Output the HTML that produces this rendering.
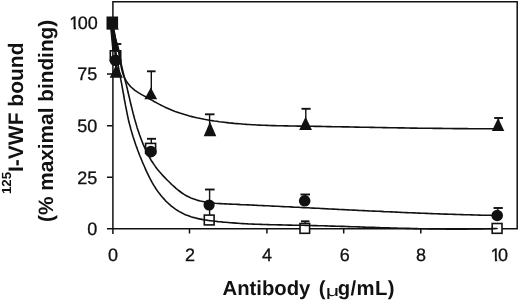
<!DOCTYPE html>
<html><head><meta charset="utf-8"><title>Figure</title>
<style>
html,body{margin:0;padding:0;background:#fff;}
body{width:520px;height:304px;overflow:hidden;position:relative;font-family:"Liberation Sans",Arial,sans-serif;}
svg{position:absolute;left:0;top:0;display:block;}
text{text-rendering:geometricPrecision;font-family:"Liberation Sans",Arial,sans-serif;fill:#111;}
.tk{font-size:18px;stroke:#111;stroke-width:0.3px;}
.b{font-weight:bold;}
</style></head><body>
<svg width="520" height="304" viewBox="0 0 520 304">
<rect width="520" height="304" fill="#fff"/>
<!-- frame -->
<g fill="none" stroke="#111" stroke-width="1.5">
<path d="M112.9,234 V1.7 H517.2 V228.8 H107"/>
<path d="M107,22.5 H112.5 M107,74.1 H112.5 M107,125.7 H112.5 M107,177.3 H112.5"/>
<path d="M189.5,228.8 V233.5 M266.9,228.8 V233.5 M343.7,228.8 V233.5 M420.8,228.8 V233.5"/>
</g>
<g fill="#111" stroke="#111" stroke-width="1.2" stroke-linejoin="round">
<polygon points="110.8,29 114,29 117.6,50.5 112.8,50.5"/>
<path d="M112.5,22.5 L116.3,72 M112.5,22.5 L116.3,60" fill="none"/>
</g>
<!-- error bars -->
<g fill="none" stroke="#111" stroke-width="1.4">
<path d="M117.5,52.0 V44.0"/><path stroke-width="1.9" d="M113.8,44.0 H121.3"/>
<path d="M151.3,90.0 V71.3"/><path stroke-width="1.9" d="M147.0,71.3 H155.6"/>
<path d="M209.6,125.0 V114.3"/><path stroke-width="1.9" d="M205.0,114.3 H214.5"/>
<path d="M305.8,120.0 V108.8"/><path stroke-width="1.9" d="M301.5,108.8 H310.6"/>
<path d="M498.5,121.0 V118.0"/><path stroke-width="1.9" d="M494.2,118.0 H503.0"/>
<path d="M151.3,146.0 V138.8"/><path stroke-width="1.9" d="M147.0,138.8 H156.0"/>
<path d="M209.6,215.0 V189.5"/><path stroke-width="1.9" d="M205.0,189.5 H214.6"/>
<path d="M305.2,198.0 V194.5"/><path stroke-width="1.9" d="M300.5,194.5 H310.0"/>
<path d="M497.8,212.0 V208.0"/><path stroke-width="1.9" d="M493.5,208.0 H502.8"/>
<path d="M305.2,224.0 V221.3"/><path stroke-width="1.9" d="M301.0,221.3 H309.5"/>
</g>
<!-- open squares -->
<g fill="#fff" stroke="#111" stroke-width="1.6">
<rect x="110.3" y="50.8" width="10.4" height="10" fill="none"/>
<rect x="145.6" y="143.4" width="10" height="10"/>
<rect x="204.3" y="215.1" width="9.8" height="9.8"/>
<rect x="300" y="223.5" width="9.6" height="9.8"/>
<rect x="492.2" y="223.5" width="9.8" height="9.8"/>
</g>
<!-- curves -->
<g fill="none" stroke="#111" stroke-width="1.6" stroke-linejoin="round" stroke-linecap="round">
<path d="M112.5,22.5 L112.4,25.0 L112.5,27.6 L112.9,30.1 L113.4,32.5 L114.0,35.0 L114.8,37.4 L115.6,39.8 L116.4,42.2 L117.2,44.6 L117.9,47.0 L118.6,49.4 L119.1,51.9 L119.5,54.4 L119.9,56.9 L120.2,59.4 L120.5,61.9 L120.8,64.4 L121.2,66.9 L121.7,69.4 L122.3,71.8 L123.1,74.2 L124.0,76.6 L125.1,78.9 L126.4,81.1 L127.8,83.2 L129.3,85.1 L131.0,87.0 L132.9,88.7 L134.9,90.3 L136.9,91.7 L139.1,93.1 L141.3,94.4 L143.5,95.6 L145.7,96.8 L147.9,98.0 L150.1,99.2 L152.3,100.4 L154.5,101.7 L156.7,102.9 L159.0,104.1 L161.2,105.3 L163.5,106.4 L165.7,107.5 L168.0,108.5 L170.4,109.5 L172.7,110.5 L175.1,111.4 L177.4,112.2 L179.8,113.1 L182.2,113.8 L184.7,114.6 L187.1,115.3 L189.5,116.0 L192.0,116.6 L194.4,117.2 L196.9,117.8 L199.3,118.3 L201.8,118.8 L204.3,119.3 L206.8,119.7 L209.3,120.2 L211.8,120.6 L214.3,121.0 L216.8,121.3 L219.3,121.7 L221.8,122.0 L224.3,122.3 L226.8,122.6 L229.3,122.9 L231.8,123.1 L234.3,123.4 L236.9,123.6 L239.4,123.8 L241.9,124.0 L244.4,124.2 L246.9,124.4 L249.4,124.5 L252.0,124.7 L254.5,124.8 L257.0,125.0 L259.5,125.1 L262.1,125.2 L264.6,125.3 L267.1,125.4 L269.6,125.5 L272.2,125.6 L274.7,125.6 L277.2,125.7 L279.7,125.8 L282.3,125.8 L284.8,125.9 L287.3,125.9 L289.8,126.0 L292.4,126.0 L294.9,126.0 L297.4,126.1 L300.0,126.1 L302.5,126.2 L305.0,126.2 L307.5,126.2 L310.1,126.3 L312.6,126.3 L315.1,126.4 L317.6,126.4 L320.2,126.4 L322.7,126.5 L325.2,126.5 L327.7,126.6 L330.3,126.6 L332.8,126.7 L335.3,126.7 L337.8,126.8 L340.4,126.8 L342.9,126.9 L345.4,126.9 L347.9,126.9 L350.5,127.0 L353.0,127.0 L355.5,127.1 L358.1,127.1 L360.6,127.2 L363.1,127.2 L365.6,127.3 L368.2,127.3 L370.7,127.4 L373.2,127.4 L375.7,127.5 L378.3,127.5 L380.8,127.5 L383.3,127.6 L385.8,127.6 L388.4,127.7 L390.9,127.7 L393.4,127.8 L395.9,127.8 L398.5,127.9 L401.0,127.9 L403.5,127.9 L406.0,128.0 L408.6,128.0 L411.1,128.1 L413.6,128.1 L416.2,128.1 L418.7,128.2 L421.2,128.2 L423.7,128.2 L426.3,128.3 L428.8,128.3 L431.3,128.3 L433.8,128.4 L436.4,128.4 L438.9,128.4 L441.4,128.4 L443.9,128.5 L446.5,128.5 L449.0,128.5 L451.5,128.5 L454.1,128.6 L456.6,128.6 L459.1,128.6 L461.6,128.6 L464.2,128.6 L466.7,128.6 L469.2,128.7 L471.7,128.7 L474.3,128.7 L476.8,128.7 L479.3,128.7 L481.8,128.7 L484.4,128.7 L486.9,128.7 L489.4,128.7 L491.9,128.7 L494.5,128.7 L497.0,128.7"/>
<path d="M112.5,22.5 L112.8,25.0 L113.2,27.5 L113.6,30.0 L114.1,32.4 L114.7,34.9 L115.2,37.4 L115.8,39.8 L116.4,42.3 L117.0,44.7 L117.6,47.1 L118.2,49.6 L118.7,52.1 L119.2,54.5 L119.8,57.0 L120.3,59.4 L120.8,61.9 L121.3,64.4 L121.8,66.8 L122.4,69.3 L123.0,71.7 L123.6,74.2 L124.2,76.6 L124.8,79.1 L125.4,81.5 L126.1,83.9 L126.7,86.4 L127.3,88.8 L127.8,91.3 L128.4,93.7 L129.0,96.2 L129.6,98.6 L130.1,101.1 L130.7,103.5 L131.3,106.0 L131.9,108.4 L132.5,110.9 L133.1,113.3 L133.8,115.8 L134.4,118.2 L135.1,120.6 L135.8,123.0 L136.5,125.4 L137.2,127.9 L138.0,130.3 L138.8,132.6 L139.6,135.0 L140.5,137.4 L141.4,139.8 L142.3,142.1 L143.2,144.4 L144.2,146.7 L145.3,149.0 L146.3,151.3 L147.5,153.6 L148.6,155.8 L149.9,158.0 L151.1,160.2 L152.5,162.3 L153.9,164.4 L155.3,166.4 L156.8,168.4 L158.4,170.4 L160.0,172.3 L161.7,174.2 L163.4,176.1 L165.1,177.9 L166.9,179.7 L168.7,181.5 L170.5,183.3 L172.3,185.0 L174.2,186.7 L176.0,188.4 L178.0,190.0 L180.0,191.5 L182.0,193.0 L184.1,194.4 L186.3,195.7 L188.5,196.8 L190.8,197.9 L193.1,198.8 L195.5,199.6 L197.9,200.4 L200.4,201.0 L202.8,201.5 L205.3,202.0 L207.8,202.4 L210.3,202.7 L212.8,203.0 L215.3,203.3 L217.8,203.5 L220.3,203.6 L222.8,203.8 L225.3,203.9 L227.8,204.0 L230.4,204.1 L232.9,204.2 L235.4,204.3 L237.9,204.4 L240.4,204.6 L242.9,204.7 L245.5,204.8 L248.0,204.9 L250.5,205.0 L253.0,205.1 L255.5,205.2 L258.0,205.4 L260.5,205.5 L263.1,205.6 L265.6,205.7 L268.1,205.8 L270.6,206.0 L273.1,206.1 L275.6,206.2 L278.1,206.3 L280.7,206.5 L283.2,206.6 L285.7,206.7 L288.2,206.8 L290.7,206.9 L293.2,207.1 L295.8,207.2 L298.3,207.3 L300.8,207.5 L303.3,207.6 L305.8,207.7 L308.3,207.8 L310.8,208.0 L313.4,208.1 L315.9,208.2 L318.4,208.3 L320.9,208.5 L323.4,208.6 L325.9,208.7 L328.4,208.9 L331.0,209.0 L333.5,209.1 L336.0,209.2 L338.5,209.4 L341.0,209.5 L343.5,209.6 L346.0,209.7 L348.6,209.9 L351.1,210.0 L353.6,210.1 L356.1,210.2 L358.6,210.4 L361.1,210.5 L363.7,210.6 L366.2,210.7 L368.7,210.9 L371.2,211.0 L373.7,211.1 L376.2,211.2 L378.7,211.3 L381.3,211.4 L383.8,211.6 L386.3,211.7 L388.8,211.8 L391.3,211.9 L393.8,212.0 L396.3,212.1 L398.9,212.2 L401.4,212.4 L403.9,212.5 L406.4,212.6 L408.9,212.7 L411.4,212.8 L414.0,212.9 L416.5,213.0 L419.0,213.1 L421.5,213.2 L424.0,213.3 L426.5,213.4 L429.1,213.5 L431.6,213.6 L434.1,213.7 L436.6,213.8 L439.1,213.9 L441.6,214.0 L444.2,214.1 L446.7,214.1 L449.2,214.2 L451.7,214.3 L454.2,214.4 L456.7,214.5 L459.2,214.5 L461.8,214.6 L464.3,214.7 L466.8,214.8 L469.3,214.8 L471.8,214.9 L474.4,215.0 L476.9,215.0 L479.4,215.1 L481.9,215.2 L484.4,215.2 L486.9,215.3 L489.5,215.3 L492.0,215.4 L494.5,215.5 L497.0,215.5"/>
<path d="M112.5,22.5 L112.6,25.0 L112.8,27.5 L113.0,30.0 L113.3,32.5 L113.5,35.0 L113.8,37.5 L114.1,40.0 L114.4,42.5 L114.8,45.0 L115.2,47.5 L115.5,50.0 L115.9,52.5 L116.3,55.0 L116.8,57.4 L117.2,59.9 L117.6,62.4 L118.1,64.9 L118.5,67.3 L119.0,69.8 L119.5,72.3 L119.9,74.7 L120.4,77.2 L120.8,79.7 L121.3,82.2 L121.8,84.6 L122.2,87.1 L122.7,89.6 L123.1,92.1 L123.6,94.5 L124.0,97.0 L124.4,99.5 L124.9,102.0 L125.3,104.4 L125.8,106.9 L126.3,109.4 L126.8,111.8 L127.3,114.3 L127.8,116.8 L128.3,119.2 L128.9,121.7 L129.5,124.1 L130.2,126.5 L130.8,129.0 L131.5,131.4 L132.2,133.8 L132.9,136.2 L133.7,138.6 L134.5,141.0 L135.3,143.4 L136.1,145.7 L137.0,148.1 L137.8,150.5 L138.7,152.8 L139.6,155.2 L140.6,157.5 L141.5,159.8 L142.5,162.2 L143.5,164.5 L144.5,166.8 L145.5,169.1 L146.5,171.4 L147.6,173.7 L148.7,175.9 L149.8,178.2 L151.0,180.4 L152.2,182.6 L153.5,184.8 L154.8,186.9 L156.1,189.0 L157.6,191.1 L159.0,193.1 L160.6,195.1 L162.2,197.0 L163.9,198.9 L165.6,200.8 L167.4,202.5 L169.2,204.2 L171.1,205.9 L173.1,207.4 L175.1,208.9 L177.2,210.3 L179.4,211.6 L181.6,212.8 L183.8,213.9 L186.1,214.9 L188.5,215.8 L190.9,216.7 L193.3,217.4 L195.7,218.0 L198.1,218.6 L200.6,219.1 L203.1,219.6 L205.6,220.0 L208.0,220.4 L210.5,220.7 L213.0,221.0 L215.5,221.3 L218.0,221.6 L220.5,221.8 L223.0,222.1 L225.5,222.3 L228.0,222.5 L230.6,222.7 L233.1,222.9 L235.6,223.1 L238.1,223.3 L240.6,223.5 L243.1,223.6 L245.6,223.7 L248.1,223.9 L250.6,224.0 L253.1,224.1 L255.7,224.2 L258.2,224.3 L260.7,224.4 L263.2,224.5 L265.7,224.5 L268.2,224.6 L270.7,224.7 L273.3,224.7 L275.8,224.8 L278.3,224.9 L280.8,224.9 L283.3,225.0 L285.8,225.0 L288.3,225.1 L290.9,225.1 L293.4,225.2 L295.9,225.2 L298.4,225.2 L300.9,225.3 L303.4,225.3 L305.9,225.4 L308.5,225.5 L311.0,225.5 L313.5,225.6 L316.0,225.6 L318.5,225.7 L321.0,225.8 L323.5,225.8 L326.0,225.9 L328.6,226.0 L331.1,226.1 L333.6,226.1 L336.1,226.2 L338.6,226.3 L341.1,226.4 L343.6,226.4 L346.2,226.5 L348.7,226.6 L351.2,226.7 L353.7,226.8 L356.2,226.8 L358.7,226.9 L361.2,227.0 L363.8,227.1 L366.3,227.2 L368.8,227.3 L371.3,227.3 L373.8,227.4 L376.3,227.5 L378.8,227.6 L381.3,227.7 L383.9,227.7 L386.4,227.8 L388.9,227.9 L391.4,228.0 L393.9,228.0 L396.4,228.1 L398.9,228.2 L401.5,228.2 L404.0,228.3 L406.5,228.4 L409.0,228.4 L411.5,228.5 L414.0,228.6 L416.5,228.6 L419.1,228.7 L421.6,228.7 L424.1,228.8 L426.6,228.8 L429.1,228.9 L431.6,228.9 L434.1,228.9 L436.7,229.0 L439.2,229.0 L441.7,229.0 L444.2,229.0 L446.7,229.1 L449.2,229.1 L451.7,229.1 L454.3,229.1 L456.8,229.1 L459.3,229.1 L461.8,229.1 L464.3,229.1 L466.8,229.1 L469.3,229.0 L471.9,229.0 L474.4,229.0 L476.9,229.0 L479.4,228.9 L481.9,228.9 L484.4,228.8 L486.9,228.8 L489.5,228.7 L492.0,228.6 L494.5,228.6 L497.0,228.5"/>
</g>
<!-- filled circles -->
<g fill="#111">
<circle cx="115.6" cy="60.3" r="5.9"/>
<circle cx="150.8" cy="151.6" r="5.9"/>
<circle cx="209.1" cy="205" r="5.6"/>
<circle cx="304.7" cy="200.8" r="5.8"/>
<circle cx="497.2" cy="215.5" r="5.8"/>
</g>
<!-- filled triangles -->
<g fill="#111">
<polygon points="116.3,64.2 109.7,77.7 122.9,77.7"/>
<polygon points="150.8,87.4 144.4,99.3 157.2,99.3"/>
<polygon points="210.0,121.8 203.7,136.3 216.3,136.3"/>
<polygon points="305.6,116.8 299.2,129.9 312.0,129.9"/>
<polygon points="498.1,118.0 491.9,131.0 504.3,131.0"/>
<rect x="106.5" y="16.5" width="11.6" height="12.8"/>
<polygon points="112,24 119.2,29.4 106.5,29.4"/>
</g>
<!-- y tick labels -->
<g class="tk" text-anchor="end">
<text x="69.2" y="28.8" text-anchor="start">1<tspan x="77.8">00</tspan></text>
<text x="97.3" y="80.4">75</text>
<text x="97.3" y="132">50</text>
<text x="97.3" y="183.6">25</text>
<text x="97.3" y="235.2">0</text>
</g>
<g class="tk" text-anchor="middle">
<text x="113" y="261.4">0</text>
<text x="190" y="261.4">2</text>
<text x="267" y="261.4">4</text>
<text x="344.7" y="261.4">6</text>
<text x="421" y="261.4">8</text>
<text x="490.4" y="261.4" text-anchor="start">1<tspan x="498">0</tspan></text>
</g>
<g fill="#fff">
<rect x="69" y="27" width="4.6" height="3"/><rect x="76" y="27" width="2.7" height="3"/>
<rect x="490" y="259" width="4.9" height="3.5"/><rect x="497.2" y="259" width="2.5" height="3.5"/>
</g>
<g class="b" font-size="20.3">
<text x="222.5" y="295.4">Antibody</text>
<text x="318.8" y="295.4">(</text>
<text x="337.8" y="295.4" letter-spacing="0.4">g/mL)</text>
</g>
<text transform="translate(325.8,296.2) scale(1.52,1)" font-family="'Liberation Serif','DejaVu Serif',serif" font-size="15.4">μ</text>
<g class="b" font-size="21">
<text transform="translate(22.9,194) rotate(-90)"><tspan font-size="13.2" dy="-12">125</tspan><tspan dy="12">I-VWF bound</tspan></text>
<text transform="translate(52.8,222) rotate(-90)" font-size="20.8">(% maximal binding)</text>
</g>
</svg>
</body></html>
